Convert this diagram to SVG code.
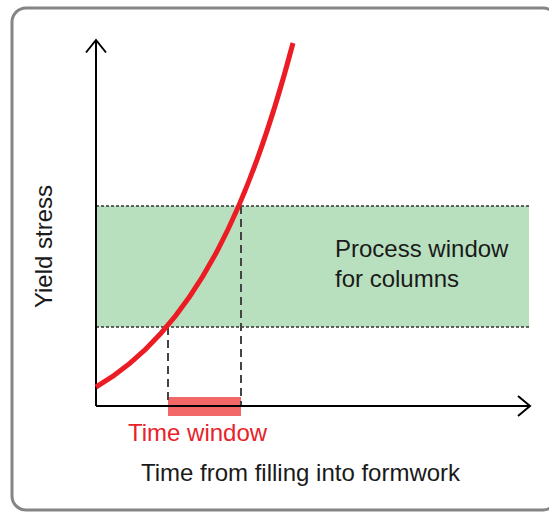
<svg xmlns="http://www.w3.org/2000/svg" width="549" height="513" viewBox="0 0 549 513">
<defs>
<style>
text{font-family:"Liberation Sans",Arial,sans-serif;font-size:24px;fill:#1a1a1a}
.axis{stroke:#000;stroke-width:2;fill:none}
.dot{stroke:#333;stroke-width:1.5;stroke-dasharray:3 2;fill:none}
.dash{stroke:#444;stroke-width:2;stroke-dasharray:8 5;fill:none}
</style>
</defs>
<rect x="0" y="0" width="549" height="513" fill="#fff"/>
<rect id="frame" x="12" y="8" width="545" height="502" rx="14" fill="#fff" stroke="#858585" stroke-width="3"/>
<g id="process-window">
<rect x="96" y="206" width="433" height="121" fill="#b8e0be"/>
<line class="dot" x1="96" y1="206" x2="529" y2="206"/>
<line class="dot" x1="96" y1="327" x2="529" y2="327"/>
<text x="335" y="257">Process window</text>
<text x="335" y="287">for columns</text>
</g>
<g id="time-window">
<rect x="168" y="397" width="73" height="19" fill="#f26868"/>
<text x="128" y="441" style="fill:#e8222a">Time window</text>
</g>
<g id="connectors">
<line class="dash" x1="168" y1="327" x2="168" y2="406"/>
<line class="dash" x1="241" y1="206" x2="241" y2="406"/>
<path class="axis" d="M96 406V40M86 52.5L96 40L106 52.5"/>
<path class="axis" d="M96 406H529M518 396L530 406L518 416"/>
<path d="M96 387C198 328 253 195 293 43" fill="none" stroke="#ec1c24" stroke-width="5"/>
</g>
<g id="labels">
<text x="52" y="246.5" text-anchor="middle" transform="rotate(-90 52 246.5)">Yield stress</text>
<text x="300.5" y="481" text-anchor="middle">Time from filling into formwork</text>
</g>
</svg>
